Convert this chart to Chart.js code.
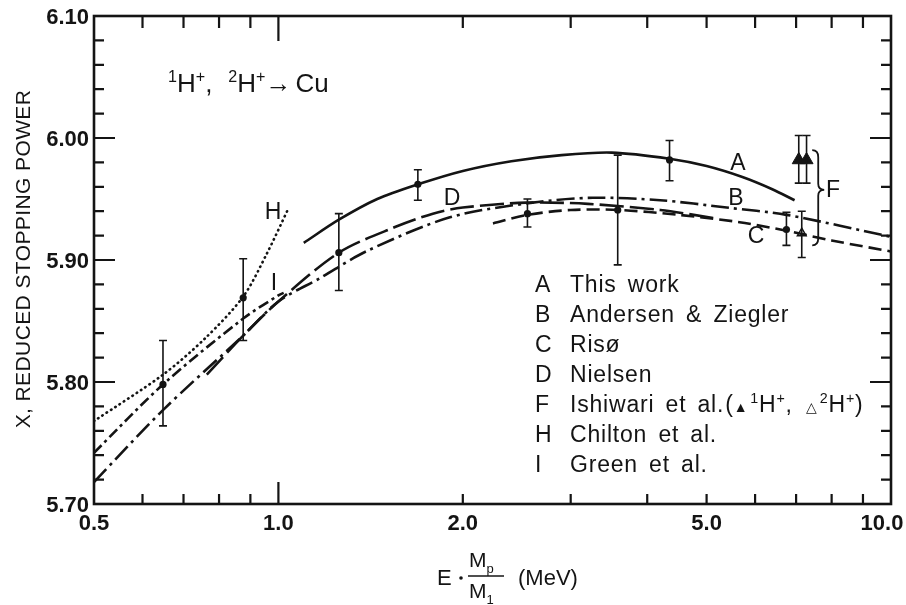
<!DOCTYPE html>
<html>
<head>
<meta charset="utf-8">
<script src="https://cdn.jsdelivr.net/npm/chart.js"></script>
<style>
  html, body { margin: 0; padding: 0; background: #fff; }
  canvas { display: block; }
</style>
</head>
<body>
<canvas id="chart" width="906" height="605"></canvas>
<script>
// --- curves (E*Mp/M1 in MeV, reduced stopping power X) ---
const aX = [1.10, 1.255, 1.45, 1.689, 2.0, 2.4, 2.9, 3.5, 4.35, 5.0, 5.72, 6.4, 6.96];
const aY = [5.914, 5.933, 5.950, 5.962, 5.973, 5.981, 5.986, 5.988, 5.983, 5.977, 5.968, 5.958, 5.949];

const bX = [0.5, 0.648, 0.876, 1.0, 1.168, 1.39, 1.905, 2.6, 3.26, 4.2, 5.39, 6.75, 10];
const bY = [5.718, 5.777, 5.838, 5.866, 5.885, 5.907, 5.935, 5.947, 5.951, 5.949, 5.943, 5.937, 5.919];

const cX = [2.24, 2.55, 3.0, 3.6, 4.5, 5.66, 6.75, 8.0, 10];
const cY = [5.930, 5.937, 5.941, 5.941, 5.937, 5.931, 5.924, 5.916, 5.907];

const dX = [0.764, 0.876, 1.0, 1.255, 1.55, 1.787, 2.0, 2.54, 3.2, 4.2, 5.2];
const dY = [5.806, 5.838, 5.866, 5.906, 5.927, 5.938, 5.943, 5.947, 5.946, 5.941, 5.934];

const hX = [0.5, 0.648, 0.76, 0.876, 0.957, 1.04];
const hY = [5.768, 5.806, 5.836, 5.870, 5.905, 5.943];

const iX = [0.5, 0.648, 0.876, 1.0, 1.02];
const iY = [5.742, 5.798, 5.852, 5.871, 5.873];

// --- measured points with error bars ---
const ptX  = [0.648, 0.876, 1.255, 1.689, 2.55, 3.58, 4.35, 6.75];
const ptY  = [5.798, 5.869, 5.906, 5.962, 5.938, 5.941, 5.982, 5.925];
const ptLo = [5.764, 5.834, 5.875, 5.949, 5.927, 5.896, 5.965, 5.912];
const ptHi = [5.834, 5.901, 5.938, 5.974, 5.950, 5.986, 5.998, 5.939];

// Ishiwari et al. 1H+ (filled) and 2H+ (open)
const f1X = [7.07, 7.28];
const f1Y = [5.982, 5.982];
const f1Lo = [5.963, 5.963];
const f1Hi = [6.002, 6.002];
const f2X = [7.15];
const f2Y = [5.922];
const f2Lo = [5.902];
const f2Hi = [5.940];
const braceY = [5.912, 5.990];

// --- axes ---
const yMajorTicks = [5.70, 5.80, 5.90, 6.00, 6.10];
const yTickLabels = ['5.70', '5.80', '5.90', '6.00', '6.10'];
const yMinorTicks = [5.72, 5.74, 5.76, 5.78, 5.82, 5.84, 5.86, 5.88, 5.92, 5.94, 5.96, 5.98, 6.02, 6.04, 6.06, 6.08];
const xLabelValues = [0.5, 1.0, 2.0, 5.0, 10.0];
const xTickLabels = ['0.5', '1.0', '2.0', '5.0', '10.0'];
const xMajorTicks = [1.0];
const xMinorTicks = [0.6, 0.7, 0.8, 0.9, 2, 3, 4, 5, 6, 7, 8, 9];

const legendKeys = ['A', 'B', 'C', 'D', 'F', 'H', 'I'];
const legendNames = ['This work', 'Andersen & Ziegler', 'Risø', 'Nielsen', null, 'Chilton et al.', 'Green et al.'];

const INK = '#141414';
const SANS = '"Liberation Sans", Arial, sans-serif';
const NARROW = '"Liberation Sans Narrow", "Liberation Sans", Arial, sans-serif';

const pts = (xs, ys) => xs.map((x, i) => ({ x: x, y: ys[i] }));

function curve(label, xs, ys, dash, cap) {
    return {
        label: label,
        data: pts(xs, ys),
        showLine: true,
        borderColor: INK,
        borderWidth: 2.6,
        borderDash: dash,
        borderCapStyle: cap || 'butt',
        pointRadius: 0,
        tension: 0.3,
        fill: false
    };
}

function drawRich(ctx, x, y, parts, size, family) {
    let cx = x;
    parts.forEach(p => {
        const small = p.sup || p.sub;
        const s = small ? size * 0.62 : (p.size || size);
        ctx.font = s + 'px ' + family;
        const dy = p.sup ? -size * 0.4 : (p.sub ? size * 0.28 : 0);
        ctx.fillText(p.t, cx, y + dy);
        cx += ctx.measureText(p.t).width + (p.gap || 0);
    });
    return cx;
}

const errorBars = {
    id: 'errorBars',
    afterDatasetsDraw(chart) {
        const ctx = chart.ctx;
        const xs = chart.scales.x, ys = chart.scales.y;
        ctx.save();
        ctx.strokeStyle = INK;
        ctx.lineWidth = 1.6;
        chart.data.datasets.forEach(ds => {
            if (!ds.errLo) return;
            ds.data.forEach((p, i) => {
                const px = xs.getPixelForValue(p.x);
                const y1 = ys.getPixelForValue(ds.errLo[i]);
                const y2 = ys.getPixelForValue(ds.errHi[i]);
                ctx.beginPath();
                ctx.moveTo(px, y1); ctx.lineTo(px, y2);
                ctx.moveTo(px - 4, y1); ctx.lineTo(px + 4, y1);
                ctx.moveTo(px - 4, y2); ctx.lineTo(px + 4, y2);
                ctx.stroke();
            });
        });
        ctx.restore();
    }
};

const frame = {
    id: 'frame',
    afterDraw(chart) {
        const ctx = chart.ctx;
        const a = chart.chartArea;
        const xs = chart.scales.x, ys = chart.scales.y;
        ctx.save();
        ctx.strokeStyle = INK;
        ctx.fillStyle = INK;
        ctx.lineWidth = 2.6;
        ctx.strokeRect(a.left, a.top, a.right - a.left, a.bottom - a.top);

        ctx.lineWidth = 2.2;
        ctx.beginPath();
        yMajorTicks.forEach(v => {
            const py = ys.getPixelForValue(v);
            ctx.moveTo(a.left, py); ctx.lineTo(a.left + 21, py);
            ctx.moveTo(a.right, py); ctx.lineTo(a.right - 21, py);
        });
        yMinorTicks.forEach(v => {
            const py = ys.getPixelForValue(v);
            ctx.moveTo(a.left, py); ctx.lineTo(a.left + 10, py);
            ctx.moveTo(a.right, py); ctx.lineTo(a.right - 10, py);
        });
        xMajorTicks.forEach(v => {
            const px = xs.getPixelForValue(v);
            ctx.moveTo(px, a.bottom); ctx.lineTo(px, a.bottom - 22);
            ctx.moveTo(px, a.top); ctx.lineTo(px, a.top + 25);
        });
        xMinorTicks.forEach(v => {
            const px = xs.getPixelForValue(v);
            ctx.moveTo(px, a.bottom); ctx.lineTo(px, a.bottom - 10);
            ctx.moveTo(px, a.top); ctx.lineTo(px, a.top + 12);
        });
        ctx.stroke();

        // brace for F
        const bx = xs.getPixelForValue(7.55);
        const bt = ys.getPixelForValue(braceY[1]);
        const bb = ys.getPixelForValue(braceY[0]);
        const bm = (bt + bb) / 2 - 8;
        ctx.lineWidth = 1.8;
        ctx.beginPath();
        ctx.moveTo(bx - 4, bt);
        ctx.quadraticCurveTo(bx + 2, bt, bx + 2, bt + 7);
        ctx.lineTo(bx + 2, bm - 6);
        ctx.quadraticCurveTo(bx + 2, bm, bx + 8, bm);
        ctx.quadraticCurveTo(bx + 2, bm, bx + 2, bm + 6);
        ctx.lineTo(bx + 2, bb - 7);
        ctx.quadraticCurveTo(bx + 2, bb, bx - 4, bb);
        ctx.stroke();

        // tick labels
        ctx.font = 'bold 22px ' + NARROW;
        ctx.textAlign = 'right';
        ctx.textBaseline = 'middle';
        yMajorTicks.forEach((v, i) => {
            ctx.fillText(yTickLabels[i], a.left - 5, ys.getPixelForValue(v) + 2);
        });
        ctx.textAlign = 'center';
        xLabelValues.forEach((v, i) => {
            let px = xs.getPixelForValue(v);
            if (i === xLabelValues.length - 1) px -= 9;
            ctx.fillText(xTickLabels[i], px, a.bottom + 20);
        });

        // axis titles
        ctx.textBaseline = 'alphabetic';
        ctx.save();
        ctx.translate(30, 259);
        ctx.rotate(-Math.PI / 2);
        ctx.font = '21px ' + SANS;
        ctx.letterSpacing = '0.4px';
        ctx.textAlign = 'center';
        ctx.fillText('X, REDUCED STOPPING POWER', 0, 0);
        ctx.restore();

        ctx.textAlign = 'left';
        ctx.font = '22px ' + SANS;
        ctx.fillText('E', 437, 585);
        ctx.beginPath();
        ctx.arc(461, 578, 1.8, 0, Math.PI * 2);
        ctx.fill();
        drawRich(ctx, 469, 567, [{ t: 'M' }, { t: 'p', sub: true }], 21, SANS);
        ctx.lineWidth = 1.6;
        ctx.beginPath();
        ctx.moveTo(468, 576); ctx.lineTo(504, 576);
        ctx.stroke();
        drawRich(ctx, 469, 598, [{ t: 'M' }, { t: '1', sub: true }], 21, SANS);
        ctx.font = '22px ' + SANS;
        ctx.fillText('(MeV)', 518, 585);

        // reaction title
        drawRich(ctx, 168, 92, [
            { t: '1', sup: true }, { t: 'H' }, { t: '+', sup: true }, { t: ',', gap: 16 },
            { t: '2', sup: true }, { t: 'H' }, { t: '+', sup: true }, { t: '\u2192', gap: 4 }, { t: 'Cu' }
        ], 26, SANS);

        // curve letters
        ctx.font = '23px ' + SANS;
        ctx.textAlign = 'center';
        ctx.textBaseline = 'middle';
        [['A', 738, 164], ['B', 736, 199], ['C', 756, 237], ['D', 452, 199],
         ['F', 833, 191], ['H', 273, 213], ['I', 274, 284]].forEach(t => ctx.fillText(t[0], t[1], t[2]));

        // legend
        ctx.textAlign = 'left';
        ctx.textBaseline = 'alphabetic';
        legendKeys.forEach((k, i) => {
            const by = 292 + i * 30;
            ctx.font = '23px ' + SANS;
            ctx.letterSpacing = '0px';
            ctx.wordSpacing = '0px';
            ctx.fillText(k, 535, by);
            ctx.letterSpacing = '0.8px';
            ctx.wordSpacing = '4px';
            if (legendNames[i]) {
                ctx.fillText(legendNames[i], 570, by);
            } else {
                drawRich(ctx, 570, by, [
                    { t: 'Ishiwari et al.', gap: 1 }, { t: '(' }, { t: '\u25B2', size: 14, gap: 2 },
                    { t: '1', sup: true }, { t: 'H' }, { t: '+', sup: true }, { t: ', ', gap: 2 },
                    { t: '\u25B3', size: 14, gap: 2 }, { t: '2', sup: true }, { t: 'H' }, { t: '+', sup: true }, { t: ')' }
                ], 23, SANS);
            }
        });
        ctx.restore();
    }
};

new Chart(document.getElementById('chart'), {
    type: 'scatter',
    data: {
        datasets: [
            curve('A', aX, aY, []),
            curve('B', bX, bY, [18, 5, 3, 5]),
            curve('C', cX, cY, [13, 6]),
            curve('D', dX, dY, [24, 6]),
            curve('H', hX, hY, [0.5, 4.6], 'round'),
            curve('I', iX, iY, [11, 4, 3, 4]),
            {
                label: 'points',
                data: pts(ptX, ptY),
                errLo: ptLo, errHi: ptHi,
                pointRadius: 3.6,
                backgroundColor: INK,
                borderColor: INK,
                borderWidth: 0,
                showLine: false
            },
            {
                label: 'F 1H+',
                data: pts(f1X, f1Y),
                errLo: f1Lo, errHi: f1Hi,
                pointStyle: 'triangle',
                pointRadius: 7.5,
                backgroundColor: INK,
                borderColor: INK,
                borderWidth: 1,
                showLine: false
            },
            {
                label: 'F 2H+',
                data: pts(f2X, f2Y),
                errLo: f2Lo, errHi: f2Hi,
                pointStyle: 'triangle',
                pointRadius: 5,
                backgroundColor: '#fff',
                borderColor: INK,
                borderWidth: 1.5,
                showLine: false
            }
        ]
    },
    options: {
        responsive: false,
        animation: false,
        devicePixelRatio: 1,
        layout: { padding: { left: 94, right: 15, top: 16, bottom: 101 } },
        plugins: { legend: { display: false }, tooltip: { enabled: false } },
        scales: {
            x: { type: 'logarithmic', min: 0.5, max: 10, display: false },
            y: { type: 'linear', min: 5.70, max: 6.10, display: false }
        }
    },
    plugins: [errorBars, frame]
});
</script>
</body>
</html>
